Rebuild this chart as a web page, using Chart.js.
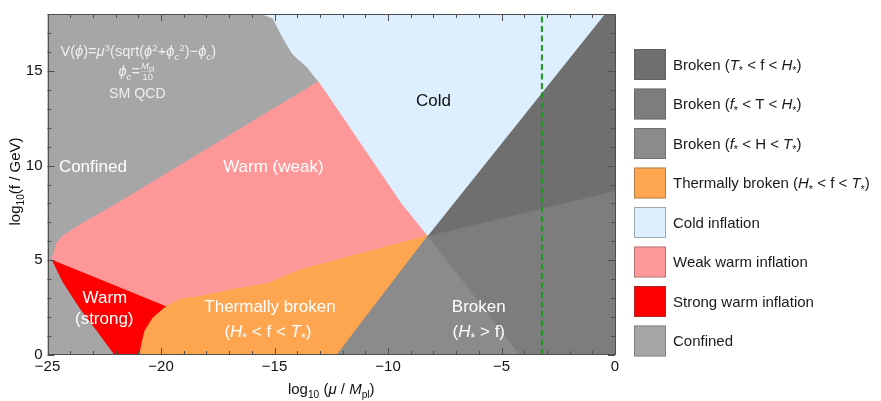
<!DOCTYPE html>
<html><head><meta charset="utf-8">
<script src="https://cdn.jsdelivr.net/npm/chart.js@4.4.1/dist/chart.umd.min.js"></script>
<style>html,body{margin:0;padding:0;background:#fff;}#wrap{width:881px;height:401px;position:relative}</style>
</head><body><div id="wrap"><canvas id="c" width="881" height="401"></canvas></div>
<script>
// ---------- data (log10 mu/Mpl , log10 f/GeV) ----------
const xTickValues = [-25, -20, -15, -10, -5, 0];
const yTickValues = [0, 5, 10, 15];
const muBound = -3.22;                 // green dashed line position
const tripleP = [-8.24, 6.29];
// boundaries
const confinedColdEdge = [[-15.55,18],[-15.07,17.79],[-14.63,16.76],[-14.19,15.88],[-13.57,15.21],[-13.13,14.54],[-13.04,14.44]];
const coldPinkEdge     = [[-13.04,14.44],[-9.38,7.99],[-8.24,6.29]];
const coldDarkEdge     = [[-8.24,6.29],[-0.44,18]];
const darkMediumEdge   = [[-8.24,6.29],[0,8.66]];
const mediumLightEdge  = [[-8.24,6.29],[-4.19,0]];
const lightOrangeEdge  = [[-8.24,6.29],[-12.25,0]];
const orangePinkEdge   = [[-8.24,6.29],[-13.88,4.49],[-15.33,3.76],[-16.83,3.46],[-18.28,3.09],[-19.16,2.94],[-19.74,2.58]];
const orangeRedEdge    = [[-19.74,2.58],[-20.35,1.96],[-20.70,1.29],[-20.84,0.62],[-20.93,0]];
const redPinkEdge      = [[-24.80,5.05],[-19.74,2.58]];
const redConfinedEdge  = [[-24.80,5.05],[-24.32,3.87],[-23.57,2.48],[-22.82,1.29],[-22.03,0]];
const pinkConfinedEdge = [[-24.80,5.05],[-24.58,5.93],[-24.32,6.29],[-23.44,6.96],[-21.94,7.99],[-13.04,14.44]];
const plotCorners      = {bl:[-25,0], tl:[-25,18], tr:[0,18], br:[0,0]};

const legendColors = ['#6f6f6f','#7d7d7d','#8b8b8b','#fda54f','#ddeefe','#fe9797','#fe0000','#a6a6a6'];
const legendLabels = [
  [['Broken ('],['T','i'],['*','star'],[' < f < '],['H','i'],['*','star'],[')']],
  [['Broken ('],['f','i'],['*','star'],[' < T < '],['H','i'],['*','star'],[')']],
  [['Broken ('],['f','i'],['*','star'],[' < H < '],['T','i'],['*','star'],[')']],
  [['Thermally broken ('],['H','i'],['*','star'],[' < f < '],['T','i'],['*','star'],[')']],
  [['Cold inflation']],
  [['Weak warm inflation']],
  [['Strong warm inflation']],
  [['Confined']]
];

// ---------- build polygons from the edges ----------
const rev = a => a.slice().reverse();
const pts = a => a.map(p => ({x:p[0], y:p[1]}));
const polyConfined = [plotCorners.bl, plotCorners.tl, ...confinedColdEdge, ...rev(pinkConfinedEdge), ...redConfinedEdge];
const polyCold   = [...confinedColdEdge, ...coldPinkEdge.slice(1), ...coldDarkEdge.slice(1)];
const polyPink   = [...pinkConfinedEdge, ...coldPinkEdge.slice(1), ...orangePinkEdge.slice(1), ...rev(redPinkEdge).slice(1)];
const polyRed    = [...redPinkEdge, ...orangeRedEdge.slice(1), ...rev(redConfinedEdge)];
const polyOrange = [...rev(orangePinkEdge), ...lightOrangeEdge.slice(1), ...rev(orangeRedEdge)];
const polyLight  = [tripleP, lightOrangeEdge[1], mediumLightEdge[1]];
const polyMedium = [tripleP, mediumLightEdge[1], plotCorners.br, darkMediumEdge[1]];
const polyDark   = [tripleP, darkMediumEdge[1], plotCorners.tr, coldDarkEdge[1]];

function region(poly, color){
  return {data: pts(poly), fill:'shape', backgroundColor:color, borderColor:color, borderWidth:1,
          pointRadius:0, tension:0, order:1};
}

const FONT = '"Liberation Sans", Arial, Helvetica, sans-serif';
const STY = {
  '':    {k:1, dy:0, i:false},
  'i':   {k:1, dy:0, i:true},
  'sub': {k:0.68, dy:0.24, i:false},
  'isub':{k:0.68, dy:0.24, i:true},
  'sup': {k:0.68, dy:-0.38, i:false},
  'star':{k:0.72, dy:0.30, i:false}
};
function fontOf(st, size){ return (st.i?'italic ':'') + (size*st.k).toFixed(2) + 'px ' + FONT; }
function richWidth(ctx, segs, size){
  let w = 0;
  for (const s of segs){ const st = STY[s[1]||'']; ctx.font = fontOf(st,size); w += ctx.measureText(s[0]).width; }
  return w;
}
function drawRich(ctx, segs, x, y, size, color, align){
  const w = richWidth(ctx, segs, size);
  let cx = align === 'left' ? x : (align === 'right' ? x - w : x - w/2);
  ctx.fillStyle = color; ctx.textBaseline = 'alphabetic'; ctx.textAlign = 'left';
  const base = y + size*0.36;
  for (const s of segs){
    const st = STY[s[1]||''];
    ctx.font = fontOf(st,size);
    ctx.fillText(s[0], cx, base + st.dy*size);
    cx += ctx.measureText(s[0]).width;
  }
  return w;
}

const annotations = [
  {x:-23.0, y:10.0, size:17, color:'#ffffff', segs:[['Confined']]},
  {x:-15.05, y:10.0, size:17, color:'#ffffff', segs:[['Warm (weak)']]},
  {x:-8.0, y:13.46, size:17, color:'#111111', segs:[['Cold']]},
  {x:-22.47, y:3.09, size:17, color:'#ffffff', segs:[['Warm']]},
  {x:-22.5, y:1.96, size:17, color:'#ffffff', segs:[['(strong)']]},
  {x:-15.2, y:2.58, size:17, color:'#ffffff', segs:[['Thermally broken']]},
  {x:-15.29, y:1.29, size:17, color:'#ffffff', segs:[['('],['H','i'],['*','star'],[' < f < '],['T','i'],['*','star'],[')']]},
  {x:-6.0, y:2.58, size:17, color:'#ffffff', segs:[['Broken']]},
  {x:-6.0, y:1.29, size:17, color:'#ffffff', segs:[['('],['H','i'],['*','star'],[' > f)']]},
  {x:-21.0, y:16.04, size:14.6, color:'#eeeeee', segs:[['V('],['ϕ','i'],[')='],['μ','i'],['3','sup'],['(sqrt('],['ϕ','i'],['2','sup'],['+'],['ϕ','i'],['c','isub'],['2','sup'],[')−'],['ϕ','i'],['c','isub'],[')']]},
  {x:-21.04, y:13.82, size:14.2, color:'#eeeeee', segs:[['SM QCD']]}
];

const overlay = {
  id:'overlay',
  afterDatasetsDraw(chart){
    const ctx = chart.ctx, xs = chart.scales.x, ys = chart.scales.y, a = chart.chartArea;
    ctx.save();
    // frame + ticks
    ctx.strokeStyle = '#4f4f4f'; ctx.lineWidth = 1;
    ctx.strokeRect(Math.round(a.left)+0.5, Math.round(a.top)+0.5, Math.round(a.right-a.left)-1, Math.round(a.bottom-a.top)-1);
    ctx.beginPath();
    for (let v = -25; v <= 0; v++){
      const px = Math.round(xs.getPixelForValue(v))+0.5, L = (v % 5 === 0) ? 7 : 4;
      ctx.moveTo(px, a.bottom); ctx.lineTo(px, a.bottom - L);
      ctx.moveTo(px, a.top); ctx.lineTo(px, a.top + L);
    }
    for (let v = 0; v <= 18; v++){
      const py = Math.round(ys.getPixelForValue(v))+0.5, L = (v % 5 === 0) ? 7 : 4;
      ctx.moveTo(a.left, py); ctx.lineTo(a.left + L, py);
      ctx.moveTo(a.right, py); ctx.lineTo(a.right - L, py);
    }
    ctx.stroke();
    // annotations
    for (const t of annotations){
      drawRich(ctx, t.segs, xs.getPixelForValue(t.x), ys.getPixelForValue(t.y), t.size, t.color, 'center');
    }
    // phi_c = Mpl/10
    {
      const cx = xs.getPixelForValue(-21.06), cy = ys.getPixelForValue(15.0);
      const lhs = [['ϕ','i'],['c','isub'],['=']];
      const wl = richWidth(ctx, lhs, 14.6);
      ctx.font = 'italic 9.5px ' + FONT; const wM = ctx.measureText('M').width;
      ctx.font = '7px ' + FONT; const wpl = ctx.measureText('pl').width;
      const wf = wM + wpl;
      const x0 = cx - (wl + wf + 2)/2;
      drawRich(ctx, lhs, x0, cy, 14.6, '#eeeeee', 'left');
      const fx = x0 + wl + 1;
      ctx.fillStyle = '#eeeeee'; ctx.textBaseline = 'alphabetic';
      ctx.font = 'italic 9.5px ' + FONT; ctx.fillText('M', fx, cy - 2);
      ctx.font = '7px ' + FONT; ctx.fillText('pl', fx + wM, cy);
      ctx.font = '9.5px ' + FONT; ctx.textAlign = 'center'; ctx.fillText('10', fx + wf/2, cy + 9.5);
      ctx.textAlign = 'left';
      ctx.strokeStyle = 'rgba(238,238,238,0.6)'; ctx.lineWidth = 0.6;
      ctx.beginPath(); ctx.moveTo(fx, cy + 0.5); ctx.lineTo(fx + wf, cy + 0.5); ctx.stroke();
    }
    // axis titles
    drawRich(ctx, [['log'],['10','sub'],[' ('],['μ','i'],[' / '],['M','i'],['pl','sub'],[')']], (a.left+a.right)/2, 389, 15, '#111111', 'center');
    ctx.save(); ctx.translate(15, (a.top+a.bottom)/2 - 3); ctx.rotate(-Math.PI/2);
    drawRich(ctx, [['log'],['10','sub'],['(f / GeV)']], 0, 0, 15, '#111111', 'center');
    ctx.restore();
    // legend
    for (let i = 0; i < legendColors.length; i++){
      const cy = 64.5 + i*39.5;
      ctx.fillStyle = legendColors[i];
      ctx.fillRect(634, cy - 15.5, 32, 31);
      ctx.strokeStyle = 'rgba(80,80,80,0.45)'; ctx.lineWidth = 1;
      ctx.strokeRect(634.5, cy - 15, 31, 30);
      drawRich(ctx, legendLabels[i], 673, cy, 15, '#1a1a1a', 'left');
    }
    ctx.restore();
  }
};

new Chart(document.getElementById('c'), {
  type:'line',
  data:{ datasets:[
    {data: pts([[muBound,0],[muBound,18]]), borderColor:'#189c18', borderWidth:2, borderDash:[6,3.5], pointRadius:0, fill:false, order:0},
    region(polyDark, legendColors[0]),
    region(polyMedium, legendColors[1]),
    region(polyLight, legendColors[2]),
    region(polyOrange, legendColors[3]),
    region(polyCold, legendColors[4]),
    region(polyPink, legendColors[5]),
    region(polyRed, legendColors[6]),
    region(polyConfined, legendColors[7])
  ]},
  options:{
    responsive:false, animation:false, events:[],
    layout:{padding:{left:0, right:266, top:6, bottom:0}},
    plugins:{legend:{display:false}, tooltip:{enabled:false}},
    scales:{
      x:{type:'linear', min:-25, max:0,
         grid:{display:false, drawTicks:false}, border:{display:false},
         afterBuildTicks: s => { s.ticks = xTickValues.map(v => ({value:v})); },
         afterFit: s => { s.height = 46; },
         ticks:{padding:3, maxRotation:0, autoSkip:false, color:'#111', font:{family:FONT, size:15},
                callback: v => (v < 0 ? '−' + Math.abs(v) : String(v))}},
      y:{type:'linear', min:0, max:18,
         grid:{display:false, drawTicks:false}, border:{display:false},
         afterBuildTicks: s => { s.ticks = yTickValues.map(v => ({value:v})); },
         afterFit: s => { s.width = 47.5; },
         ticks:{padding:5, color:'#111', font:{family:FONT, size:15}}}
    }
  },
  plugins:[overlay]
});
</script></body></html>
